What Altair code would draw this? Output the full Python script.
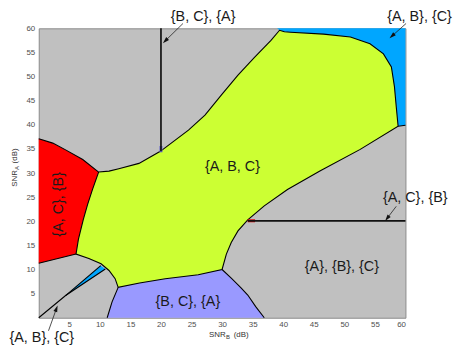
import math
import altair as alt
import pandas as pd

# ---------------- data (x = SNR_B dB, y = SNR_A dB) -------------
abc_x = [9.8, 11.5, 13.1, 16.4, 19.9, 24.5, 27.2, 29.9, 32.6, 35.3, 38.0, 39.4,
         40.2, 41.2, 46.6, 51.0, 54.2, 56.4, 57.7, 58.2, 58.5, 58.8,
         52.6, 46.0, 40.7, 36.9, 34.2, 32.6, 31.5, 30.7, 30.0,
         26.1, 20.7, 16.5, 13.0, 12.5, 11.5, 10.2, 8.2, 6.1, 6.5, 7.3, 8.0, 8.8]
abc_y = [30.2, 30.4, 30.9, 32.0, 34.5, 38.9, 42.0, 46.2, 50.3, 54.0, 57.5, 59.6,
         59.3, 59.2, 58.8, 58.2, 56.8, 54.7, 52.0, 47.9, 43.7, 39.7,
         34.9, 30.4, 26.6, 23.2, 20.3, 18.0, 15.6, 13.2, 10.0,
         8.9, 8.1, 7.2, 6.3, 8.1, 9.8, 11.2, 12.3, 13.2, 16.3, 20.4, 23.5, 26.6]

acb_x = [0.0, 2.3, 4.4, 7.2, 9.8, 8.8, 8.0, 7.3, 6.5, 6.1, 0.0]
acb_y = [37.1, 36.2, 34.8, 32.8, 30.2, 26.6, 23.5, 20.4, 16.3, 13.2, 11.3]

bca_x = [11.2, 12.0, 13.0, 16.5, 20.7, 26.1, 30.0, 31.5, 33.1, 34.2, 35.5, 36.9]
bca_y = [0.0, 3.3, 6.3, 7.2, 8.1, 8.9, 10.0, 8.2, 6.2, 4.7, 2.3, 0.0]

abc_top_x = [39.0, 60.0, 60.0, 58.8, 58.5, 58.2, 57.7, 56.4, 54.2, 51.0, 46.6, 41.2, 40.2, 39.4]
abc_top_y = [60.0, 60.0, 39.9, 39.7, 43.7, 47.9, 52.0, 54.7, 56.8, 58.2, 58.8, 59.2, 59.3, 59.6]

sliver_x = [4.4, 10.9, 10.15]
sliver_y = [4.6, 10.1, 10.8]

region_names = ["{A, B, C}", "{A, C}, {B}", "{B, C}, {A}", "{A, B}, {C} top", "{A, B}, {C} low"]
region_colors = ["#CCFF33", "#FF0000", "#9999FF", "#00A6FF", "#00A6FF"]

# extra boundary polylines
red_top_x = [0.0, 2.3, 4.4, 7.2, 9.8]
red_top_y = [37.1, 36.2, 34.8, 32.8, 30.2]
red_low_x = [0.0, 6.1]
red_low_y = [11.3, 13.2]
purple_left_x = [13.0, 12.0, 11.2]
purple_left_y = [6.3, 3.3, 0.0]
purple_right_x = [30.0, 31.5, 33.1, 34.2, 35.5, 36.9]
purple_right_y = [10.0, 8.2, 6.2, 4.7, 2.3, 0.0]
cyan_edge_x = [58.8, 60.0]
cyan_edge_y = [39.7, 39.9]
diag_x = [0.0, 4.4, 10.9]
diag_y = [0.0, 4.6, 10.1]
diag2_x = [4.4, 10.15]
diag2_y = [4.6, 10.8]

# straight black lines
rule_x1 = [20.0, 34.2]
rule_y1 = [34.5, 20.1]
rule_x2 = [20.0, 60.0]
rule_y2 = [60.0, 20.1]

# small coloured marks at the ends of the lines
mark_x1 = [20.0, 34.2]
mark_y1 = [34.3, 20.1]
mark_x2 = [20.0, 35.4]
mark_y2 = [35.6, 20.1]
mark_colors = ["#6666CC", "#E00000"]

# annotations
ann_text = ["{B, C}, {A}", "{A, B}, {C}", "{A, C}, {B}", "{A}, {B}, {C}",
            "{B, C}, {A}", "{A, B, C}", "{A, B}, {C}"]
ann_x = [26.9, 62.3, 61.6, 49.6, 24.4, 31.7, 0.5]
ann_y = [62.4, 62.4, 24.9, 10.5, 3.3, 31.3, -4.2]
rot_text = ["{A, C}, {B}"]
rot_x = [3.4]
rot_y = [23.5]

arrow_x1 = [23.6, 60.1, 58.5, 1.6]
arrow_y1 = [61.0, 61.0, 23.1, -2.7]
arrow_x2 = [20.7, 57.8, 57.0, 2.9]
arrow_y2 = [57.4, 58.4, 20.6, 1.9]

x_ticks = [5, 10, 15, 20, 25, 30, 35, 40, 45, 50, 55, 60]
y_ticks = [5, 10, 15, 20, 25, 30, 35, 40, 45, 50, 55, 60]

# ---------------- build tables ----------------
W, H = 370, 292
FONT = "Liberation Sans"

rows = []
for name, xs, ys in zip(region_names,
                        [abc_x, acb_x, bca_x, abc_top_x, sliver_x],
                        [abc_y, acb_y, bca_y, abc_top_y, sliver_y]):
    for i, (a, b) in enumerate(zip(xs, ys)):
        rows.append({"region": name, "i": i, "x": a, "y": b})
regions = pd.DataFrame(rows)

brows = []
segs = [(abc_x + [abc_x[0]], abc_y + [abc_y[0]]), (red_top_x, red_top_y), (red_low_x, red_low_y),
        (purple_left_x, purple_left_y), (purple_right_x, purple_right_y),
        (cyan_edge_x, cyan_edge_y), (diag_x, diag_y), (diag2_x, diag2_y)]
for s, (xs, ys) in enumerate(segs):
    for i, (a, b) in enumerate(zip(xs, ys)):
        brows.append({"seg": s, "i": i, "x": a, "y": b})
bounds = pd.DataFrame(brows)

rules = pd.DataFrame({"x": rule_x1, "y": rule_y1, "x2": rule_x2, "y2": rule_y2})
marks = pd.DataFrame({"x": mark_x1, "y": mark_y1, "x2": mark_x2, "y2": mark_y2, "c": mark_colors})
ann = pd.DataFrame({"t": ann_text, "x": ann_x, "y": ann_y})
rot = pd.DataFrame({"t": rot_text, "x": rot_x, "y": rot_y})

sx, sy = W / 60.0, H / 60.0
angles = [math.degrees(math.atan2((a2 - a1) * sx, (b2 - b1) * sy)) % 360
          for a1, b1, a2, b2 in zip(arrow_x1, arrow_y1, arrow_x2, arrow_y2)]
arrows = pd.DataFrame({"x": arrow_x1, "y": arrow_y1, "hx": arrow_x2, "hy": arrow_y2, "ang": angles})

xs_scale = alt.Scale(domain=[0, 60], nice=False, zero=False)
ys_scale = alt.Scale(domain=[0, 60], nice=False, zero=False)
axis_common = dict(title=None, grid=False, domain=False, ticks=False, labelFontSize=8,
                   labelColor="#505050", labelFont=FONT)
x_axis = alt.Axis(values=x_ticks, labelPadding=3, **axis_common)
y_axis = alt.Axis(values=y_ticks, labelPadding=4, **axis_common)


def X(f="x"):
    return alt.X(f + ":Q", scale=xs_scale, axis=x_axis)


def Y(f="y"):
    return alt.Y(f + ":Q", scale=ys_scale, axis=y_axis)


fill_layer = alt.Chart(regions).mark_line(
    filled=True, interpolate="linear-closed", strokeWidth=0
).encode(
    x=X(), y=Y(), order="i:Q",
    color=alt.Color("region:N", scale=alt.Scale(domain=region_names, range=region_colors), legend=None),
)

bound_layer = alt.Chart(bounds).mark_line(color="#000000", strokeWidth=1.1).encode(
    x=X(), y=Y(), order="i:Q", detail="seg:N")

rule_layer = alt.Chart(rules).mark_rule(color="#111111", strokeWidth=1.7).encode(
    x=X(), y=Y(), x2="x2:Q", y2="y2:Q")

mark_layer = alt.Chart(marks).mark_rule(strokeWidth=3).encode(
    x=X(), y=Y(), x2="x2:Q", y2="y2:Q", color=alt.Color("c:N", scale=None))

arrow_layer = alt.Chart(arrows).mark_rule(color="#222222", strokeWidth=0.8).encode(
    x=X(), y=Y(), x2="hx:Q", y2="hy:Q")
head_layer = alt.Chart(arrows).mark_point(
    shape="M0,-1L0.6,1L-0.6,1Z", filled=True, color="#111111", size=45, opacity=1
).encode(x=X("hx"), y=Y("hy"), angle=alt.Angle("ang:Q", scale=None))

text_layer = alt.Chart(ann).mark_text(font=FONT, fontSize=14.5, color="#1a1a1a").encode(
    x=X(), y=Y(), text="t:N")
rot_layer = alt.Chart(rot).mark_text(font=FONT, fontSize=14.5, color="#1a1a1a", angle=270).encode(
    x=X(), y=Y(), text="t:N")

# axis titles with subscripts
xt = pd.DataFrame({"t": ["SNR", "B", "(dB)"], "x": [30.6, 30.65, 31.9], "y": [-3.6, -4.0, -3.6],
                   "s": [8, 6, 8], "a": ["right", "left", "left"]})
xt_layers = [alt.Chart(xt.iloc[[k]]).mark_text(font=FONT, fontSize=float(xt.s[k]), color="#333333",
                                               align=xt.a[k]).encode(x=X(), y=Y(), text="t:N")
             for k in range(3)]
yt = pd.DataFrame({"t": ["SNR", "A", "(dB)"], "x": [-3.95, -3.6, -3.95], "y": [30.6, 30.65, 32.0],
                   "s": [8, 6, 8], "a": ["right", "left", "left"]})
yt_layers = [alt.Chart(yt.iloc[[k]]).mark_text(font=FONT, fontSize=float(yt.s[k]), color="#333333",
                                               align=yt.a[k], angle=270).encode(x=X(), y=Y(), text="t:N")
             for k in range(3)]

chart = alt.layer(
    fill_layer, bound_layer, mark_layer, rule_layer, arrow_layer, head_layer,
    text_layer, rot_layer, *xt_layers, *yt_layers
).properties(
    width=W, height=H,
    padding={"left": 31, "top": 19, "right": 50, "bottom": 26},
    autosize=alt.AutoSizeParams(type="none"),
    background="white",
).configure_view(
    fill="#C0C0C0", stroke="#8a8a8a", strokeWidth=1
)

chart.save("out.html", embed_options={"renderer": "svg", "actions": False})
